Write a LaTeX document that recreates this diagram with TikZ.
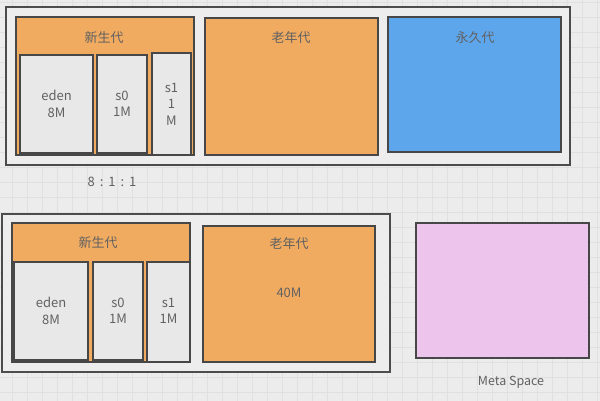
\documentclass[tikz,border=0pt]{standalone}
\usepackage{fontspec}
\setmainfont{Noto Sans CJK SC}
\begin{document}
\begin{tikzpicture}[x=1pt,y=-1pt,
  every node/.style={font=\fontsize{13}{16.5}\selectfont, text=black!62, align=center, inner sep=0pt},
  frame/.style={draw=black!70, line width=1.6pt, fill=black!7},
  region/.style={draw=black!72, line width=1.3pt},
  young/.style={region, fill=orangefill},
  cell/.style={region, fill=black!9},
  tagtext/.style={font=\fontsize{12.5}{15}\selectfont}]
\definecolor{orangefill}{HTML}{F0AB60}
\definecolor{bluefill}{HTML}{5EA6EC}
\definecolor{pinkfill}{HTML}{ECC4EC}
\definecolor{gridline}{HTML}{E0E0E0}
% canvas and grid
\fill[black!7.5] (0,0) rectangle (600,401);
\useasboundingbox (0,0) rectangle (600,401);
\foreach \gx in {12,27,...,597} \draw[gridline, line width=0.7pt] (\gx,0) -- (\gx,401);
\foreach \gy in {2,17,...,400} \draw[gridline, line width=0.7pt] (0,\gy) -- (600,\gy);

% ---- heap with permanent generation ----
\draw[frame] (6,7) rectangle (570,165);
\draw[young] (16,17) rectangle (194,155);
\node (ya) at (104,38) {新生代};
\draw[cell] (20,55) rectangle (93,153);
\node (edena) at (56.5,104) {eden\\8M};
\draw[cell] (97,55) rectangle (147,153);
\node (s0a) at (122,104) {s0\\1M};
\draw[cell] (152,53) rectangle (191,155);
\node (s1a) at (171.5,104) {s1\\1\\M};
\draw[young] (205,18) rectangle (378,155);
\node (olda) at (291,38) {老年代};
\draw[region, fill=bluefill] (388,17) rectangle (561,152);
\node (perm) at (475,38) {永久代};
\node (ratio) at (112,182) {8\hspace{5pt}:\hspace{5pt}1\hspace{5pt}:\hspace{5pt}1};

% ---- heap with metaspace ----
\draw[frame] (2,214) rectangle (390,372);
\draw[young] (12,223) rectangle (190,362);
\node (yb) at (98,243) {新生代};
\draw[cell] (14,262) rectangle (88,360);
\node (edenb) at (51,311) {eden\\8M};
\draw[cell] (93,262) rectangle (143,360);
\node (s0b) at (118,311) {s0\\1M};
\draw[cell] (147,262) rectangle (190,362);
\node (s1b) at (168.5,311) {s1\\1M};
\draw[young] (203,226) rectangle (375,362);
\node (oldb) at (289,244) {老年代};
\node (oldsize) at (289,293) {40M};
\draw[region, fill=pinkfill] (416,223) rectangle (589,358);
\node[tagtext] (meta) at (511,382) {Meta Space};
\end{tikzpicture}
\end{document}
